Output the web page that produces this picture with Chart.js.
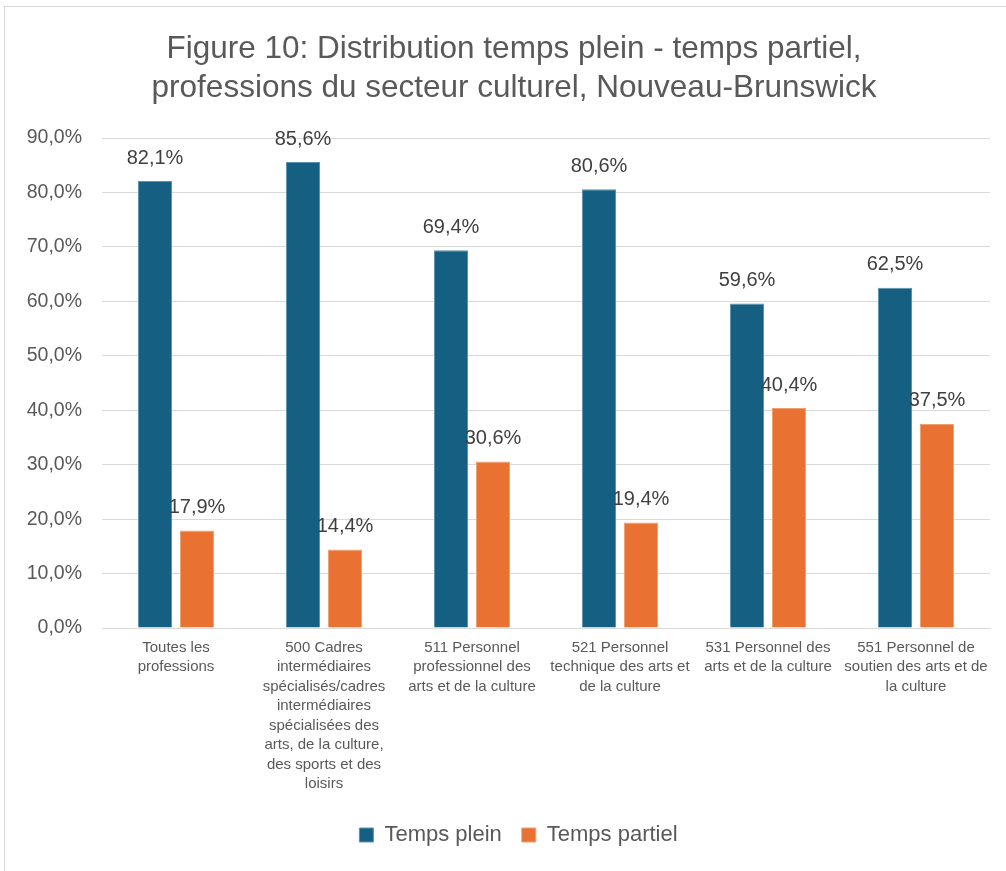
<!DOCTYPE html>
<html>
<head>
<meta charset="utf-8">
<script src="https://cdn.jsdelivr.net/npm/chart.js@4.4.1/dist/chart.umd.min.js"></script>
<style>
  html, body { margin: 0; padding: 0; background: #fff; }
  #wrap { position: absolute; left: 4px; top: 6px; width: 1010px; height: 870px; border: 1px solid #d9d9d9; box-sizing: border-box; }
  canvas { display: block; }
</style>
</head>
<body>
<div id="wrap"><canvas id="mycanvas" width="1008" height="868"></canvas></div>
<script>
var categories = [
  ["Toutes les", "professions"],
  ["500 Cadres", "intermédiaires", "spécialisés/cadres", "intermédiaires", "spécialisées des", "arts, de la culture,", "des sports et des", "loisirs"],
  ["511 Personnel", "professionnel des", "arts et de la culture"],
  ["521 Personnel", "technique des arts et", "de la culture"],
  ["531 Personnel des", "arts et de la culture"],
  ["551 Personnel de", "soutien des arts et de", "la culture"]
];
var tempsPlein = [82.1, 85.6, 69.4, 80.6, 59.6, 62.5];
var tempsPartiel = [17.9, 14.4, 30.6, 19.4, 40.4, 37.5];
var yTicks = [0, 10, 20, 30, 40, 50, 60, 70, 80, 90];

function pct(v) {
  return v.toFixed(1).replace('.', ',') + '%';
}

// draws the value labels above each bar
var barLabels = {
  id: 'barLabels',
  afterDatasetsDraw: function(chart) {
    var ctx = chart.ctx;
    ctx.save();
    ctx.font = '20px "Liberation Sans", Arial, sans-serif';
    ctx.fillStyle = '#404040';
    ctx.textAlign = 'center';
    ctx.textBaseline = 'middle';
    chart.data.datasets.forEach(function(ds, i) {
      chart.getDatasetMeta(i).data.forEach(function(bar, j) {
        ctx.fillText(pct(ds.data[j]), bar.x, bar.y - 23);
      });
    });
    ctx.restore();
  }
};

// title and legend sit a bit right of the canvas centre in the original
var shiftBlocks = {
  id: 'shiftBlocks',
  afterLayout: function(chart) {
    if (chart.titleBlock) {
      chart.titleBlock.left += 31;
    }
    if (chart.legend) {
      chart.legend.left += 20;
      chart.legend.right += 20;
    }
  }
};

var chartdata = {
  labels: categories,
  datasets: [
    {
      label: 'Temps plein',
      backgroundColor: '#156082',
      borderColor: '#5b93ad',
      borderWidth: 1,
      data: tempsPlein
    },
    {
      label: 'Temps partiel',
      backgroundColor: '#e97132',
      borderColor: '#f0a070',
      borderWidth: 1,
      data: tempsPartiel
    }
  ]
};

var ctx = document.getElementById('mycanvas');
var barGraph = new Chart(ctx, {
  type: 'bar',
  data: chartdata,
  plugins: [barLabels, shiftBlocks],
  options: {
    responsive: false,
    animation: false,
    layout: { padding: { left: 2, right: 23, top: 10, bottom: 19 } },
    datasets: {
      bar: { categoryPercentage: 0.568, barPercentage: 0.81 }
    },
    plugins: {
      title: {
        display: true,
        text: ['Figure 10: Distribution temps plein - temps partiel,', 'professions du secteur culturel, Nouveau-Brunswick'],
        color: '#595959',
        font: { family: '"Liberation Sans", Arial, sans-serif', size: 31.5, weight: 'normal', lineHeight: 1.24 },
        padding: { top: 13, bottom: 30 }
      },
      legend: {
        position: 'bottom',
        labels: {
          color: '#595959',
          font: { family: '"Liberation Sans", Arial, sans-serif', size: 22 },
          boxWidth: 14,
          boxHeight: 14,
          padding: 20
        }
      },
      tooltip: { enabled: false }
    },
    scales: {
      x: {
        grid: { display: false, drawTicks: false },
        border: { color: '#d9d9d9', width: 1 },
        ticks: {
          color: '#595959',
          font: { family: '"Liberation Sans", Arial, sans-serif', size: 15, lineHeight: 1.3 },
          maxRotation: 0,
          minRotation: 0,
          autoSkip: false,
          padding: 10
        }
      },
      y: {
        min: 0,
        max: 90,
        afterBuildTicks: function(axis) {
          axis.ticks = yTicks.map(function(v) { return { value: v }; });
        },
        afterFit: function(axis) {
          axis.width = 95;
        },
        grid: { color: '#d9d9d9', drawTicks: false, lineWidth: 1 },
        border: { display: false },
        ticks: {
          color: '#595959',
          font: { family: '"Liberation Sans", Arial, sans-serif', size: 19.5 },
          padding: 20,
          callback: function(v) { return pct(v); }
        }
      }
    }
  }
});
</script>
</body>
</html>
